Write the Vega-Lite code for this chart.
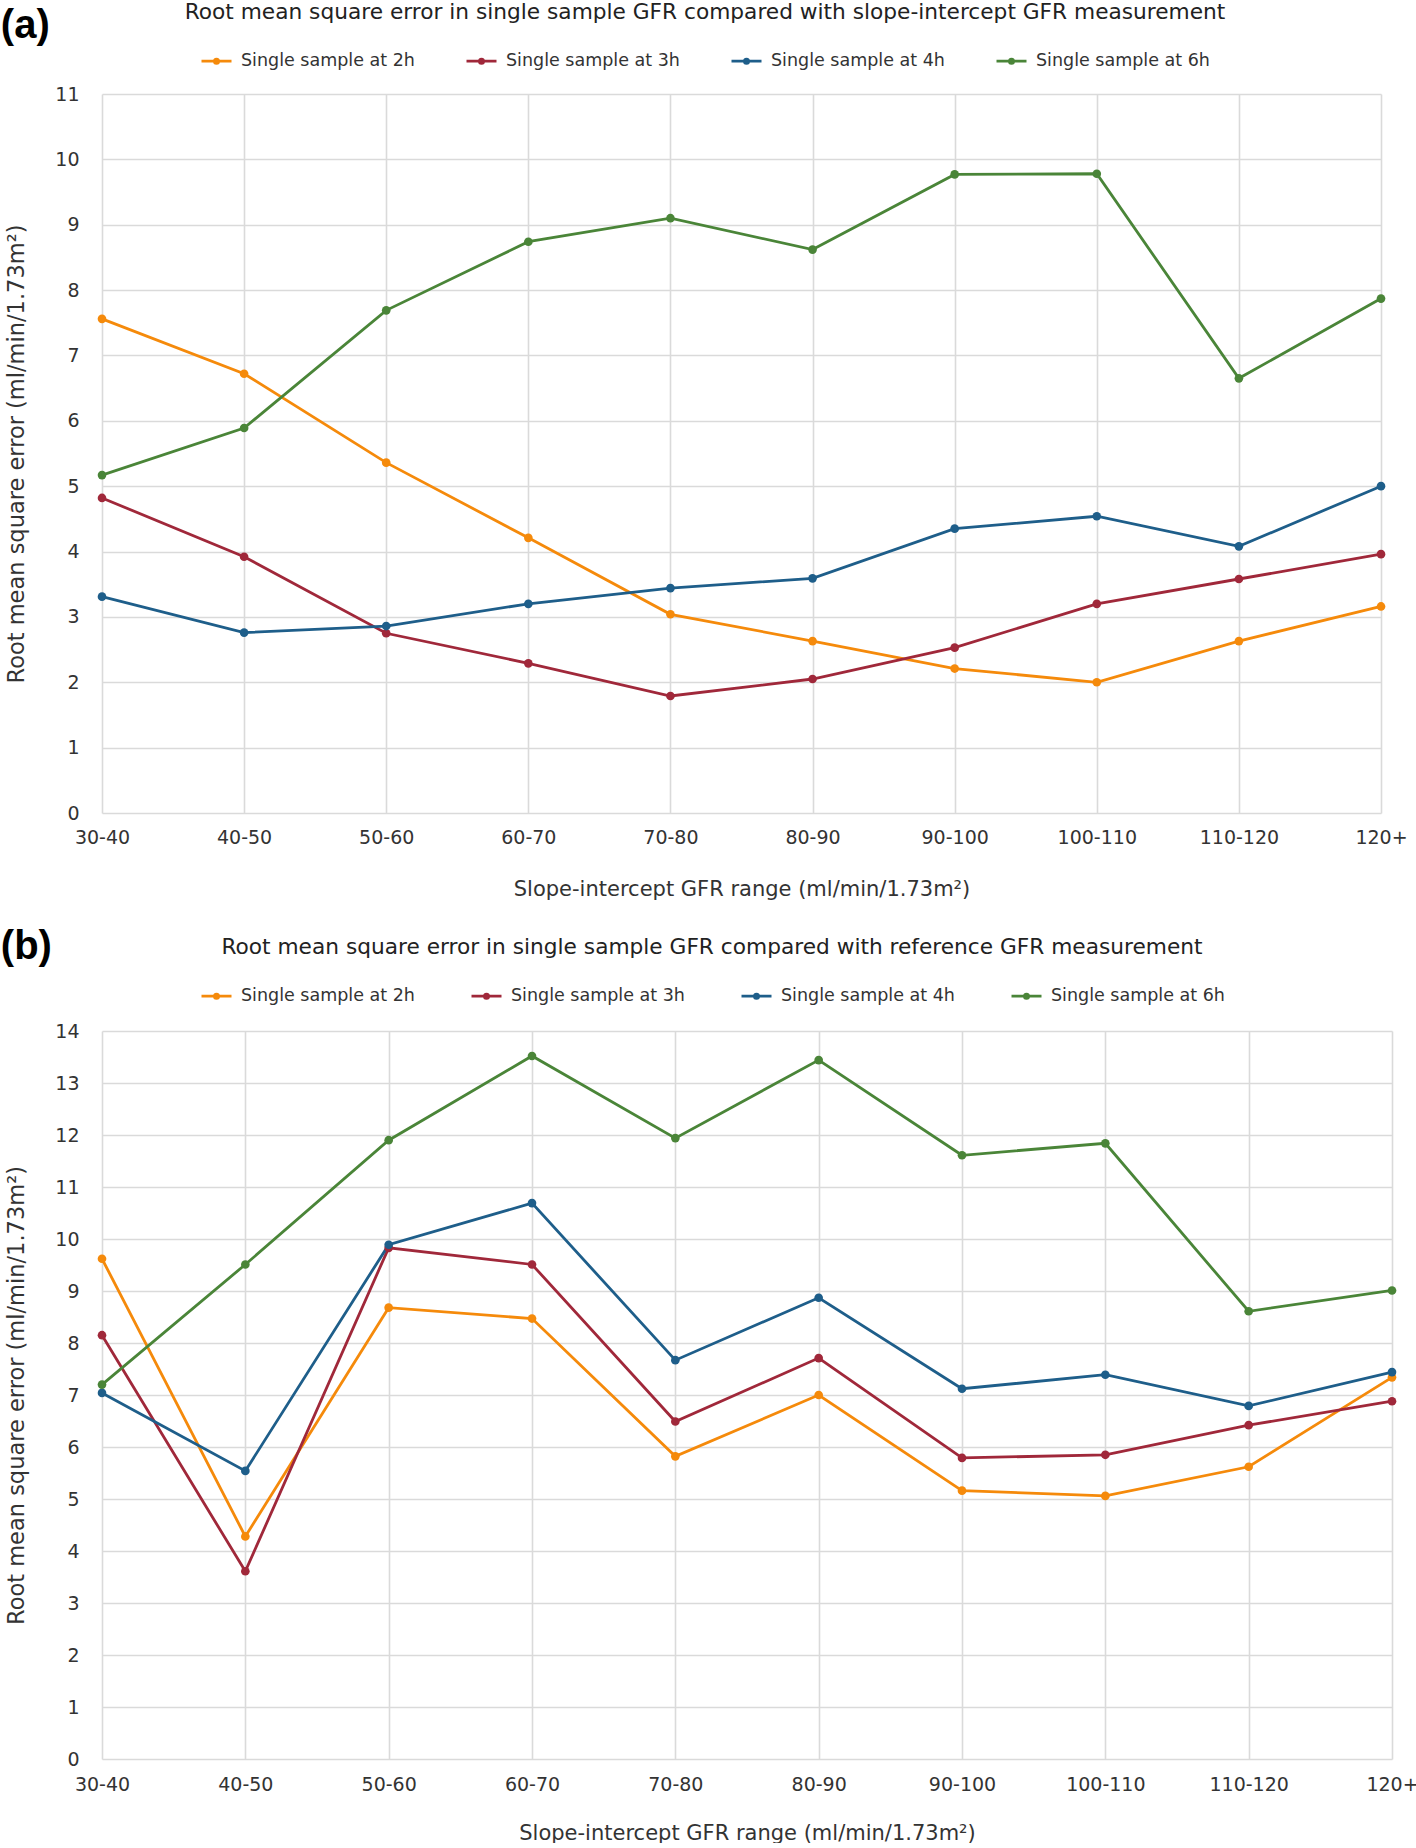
{
  "$schema": "https://vega.github.io/schema/vega-lite/v6.json",
  "background": "white",
  "padding": {"left": 0, "top": 2, "right": 0, "bottom": 0},
  "spacing": 28,
  "align": "none",
  "resolve": {"scale": {"color": "independent", "x": "independent", "y": "independent"}, "legend": {"color": "independent"}},
  "config": {
    "view": {"stroke": null},
    "font": "DejaVu Sans",
    "axis": {"labelFont": "DejaVu Sans", "labelFontSize": 19, "labelColor": "#333333", "titleFont": "DejaVu Sans", "titleFontWeight": "normal", "titleColor": "#333333", "titleFontSize": 20, "gridColor": "#dadada", "gridWidth": 1.6, "domain": false, "ticks": false},
    "legend": {"labelFont": "DejaVu Sans", "labelFontSize": 17.5, "labelColor": "#333333", "labelLimit": 400, "titleFont": "DejaVu Sans", "titleFontSize": 21.7, "titleFontWeight": "normal", "titleColor": "#222222", "titleLimit": 2000, "titleAnchor": "middle", "titleOrient": "top", "titlePadding": 21, "symbolType": "M-1,0L1,0M0.14,0A0.14,0.14,0,1,1,-0.14,0A0.14,0.14,0,1,1,0.14,0", "symbolSize": 900, "symbolStrokeWidth": 2.8, "labelOffset": 8}
  },
  "datasets": {
    "a": [
      {"r": "30-40", "s": "Single sample at 2h", "v": 7.56}, {"r": "40-50", "s": "Single sample at 2h", "v": 6.72}, {"r": "50-60", "s": "Single sample at 2h", "v": 5.36}, {"r": "60-70", "s": "Single sample at 2h", "v": 4.21}, {"r": "70-80", "s": "Single sample at 2h", "v": 3.04}, {"r": "80-90", "s": "Single sample at 2h", "v": 2.63}, {"r": "90-100", "s": "Single sample at 2h", "v": 2.21}, {"r": "100-110", "s": "Single sample at 2h", "v": 2.0}, {"r": "110-120", "s": "Single sample at 2h", "v": 2.63}, {"r": "120+", "s": "Single sample at 2h", "v": 3.16},
      {"r": "30-40", "s": "Single sample at 3h", "v": 4.82}, {"r": "40-50", "s": "Single sample at 3h", "v": 3.92}, {"r": "50-60", "s": "Single sample at 3h", "v": 2.75}, {"r": "60-70", "s": "Single sample at 3h", "v": 2.29}, {"r": "70-80", "s": "Single sample at 3h", "v": 1.79}, {"r": "80-90", "s": "Single sample at 3h", "v": 2.05}, {"r": "90-100", "s": "Single sample at 3h", "v": 2.53}, {"r": "100-110", "s": "Single sample at 3h", "v": 3.2}, {"r": "110-120", "s": "Single sample at 3h", "v": 3.58}, {"r": "120+", "s": "Single sample at 3h", "v": 3.96},
      {"r": "30-40", "s": "Single sample at 4h", "v": 3.31}, {"r": "40-50", "s": "Single sample at 4h", "v": 2.76}, {"r": "50-60", "s": "Single sample at 4h", "v": 2.86}, {"r": "60-70", "s": "Single sample at 4h", "v": 3.2}, {"r": "70-80", "s": "Single sample at 4h", "v": 3.44}, {"r": "80-90", "s": "Single sample at 4h", "v": 3.59}, {"r": "90-100", "s": "Single sample at 4h", "v": 4.35}, {"r": "100-110", "s": "Single sample at 4h", "v": 4.54}, {"r": "110-120", "s": "Single sample at 4h", "v": 4.08}, {"r": "120+", "s": "Single sample at 4h", "v": 5.0},
      {"r": "30-40", "s": "Single sample at 6h", "v": 5.17}, {"r": "40-50", "s": "Single sample at 6h", "v": 5.89}, {"r": "50-60", "s": "Single sample at 6h", "v": 7.69}, {"r": "60-70", "s": "Single sample at 6h", "v": 8.74}, {"r": "70-80", "s": "Single sample at 6h", "v": 9.1}, {"r": "80-90", "s": "Single sample at 6h", "v": 8.62}, {"r": "90-100", "s": "Single sample at 6h", "v": 9.77}, {"r": "100-110", "s": "Single sample at 6h", "v": 9.78}, {"r": "110-120", "s": "Single sample at 6h", "v": 6.65}, {"r": "120+", "s": "Single sample at 6h", "v": 7.87}
    ],
    "b": [
      {"r": "30-40", "s": "Single sample at 2h", "v": 9.62}, {"r": "40-50", "s": "Single sample at 2h", "v": 4.28}, {"r": "50-60", "s": "Single sample at 2h", "v": 8.68}, {"r": "60-70", "s": "Single sample at 2h", "v": 8.47}, {"r": "70-80", "s": "Single sample at 2h", "v": 5.82}, {"r": "80-90", "s": "Single sample at 2h", "v": 7.0}, {"r": "90-100", "s": "Single sample at 2h", "v": 5.16}, {"r": "100-110", "s": "Single sample at 2h", "v": 5.06}, {"r": "110-120", "s": "Single sample at 2h", "v": 5.62}, {"r": "120+", "s": "Single sample at 2h", "v": 7.34},
      {"r": "30-40", "s": "Single sample at 3h", "v": 8.15}, {"r": "40-50", "s": "Single sample at 3h", "v": 3.61}, {"r": "50-60", "s": "Single sample at 3h", "v": 9.83}, {"r": "60-70", "s": "Single sample at 3h", "v": 9.51}, {"r": "70-80", "s": "Single sample at 3h", "v": 6.49}, {"r": "80-90", "s": "Single sample at 3h", "v": 7.71}, {"r": "90-100", "s": "Single sample at 3h", "v": 5.79}, {"r": "100-110", "s": "Single sample at 3h", "v": 5.85}, {"r": "110-120", "s": "Single sample at 3h", "v": 6.42}, {"r": "120+", "s": "Single sample at 3h", "v": 6.88},
      {"r": "30-40", "s": "Single sample at 4h", "v": 7.04}, {"r": "40-50", "s": "Single sample at 4h", "v": 5.54}, {"r": "50-60", "s": "Single sample at 4h", "v": 9.89}, {"r": "60-70", "s": "Single sample at 4h", "v": 10.69}, {"r": "70-80", "s": "Single sample at 4h", "v": 7.67}, {"r": "80-90", "s": "Single sample at 4h", "v": 8.87}, {"r": "90-100", "s": "Single sample at 4h", "v": 7.12}, {"r": "100-110", "s": "Single sample at 4h", "v": 7.39}, {"r": "110-120", "s": "Single sample at 4h", "v": 6.79}, {"r": "120+", "s": "Single sample at 4h", "v": 7.44},
      {"r": "30-40", "s": "Single sample at 6h", "v": 7.2}, {"r": "40-50", "s": "Single sample at 6h", "v": 9.51}, {"r": "50-60", "s": "Single sample at 6h", "v": 11.9}, {"r": "60-70", "s": "Single sample at 6h", "v": 13.52}, {"r": "70-80", "s": "Single sample at 6h", "v": 11.94}, {"r": "80-90", "s": "Single sample at 6h", "v": 13.44}, {"r": "90-100", "s": "Single sample at 6h", "v": 11.61}, {"r": "100-110", "s": "Single sample at 6h", "v": 11.84}, {"r": "110-120", "s": "Single sample at 6h", "v": 8.61}, {"r": "120+", "s": "Single sample at 6h", "v": 9.01}
    ]
  },
  "vconcat": [
    {
      "width": 1279,
      "height": 719,
      "title": {"text": "(a)", "anchor": "start", "frame": "bounds", "font": "Liberation Sans", "fontSize": 40, "fontWeight": "bold", "color": "#000000", "offset": 0, "dy": 44, "dx": -5},
      "data": {"name": "a"},
      "mark": {"type": "line", "strokeWidth": 2.8, "point": {"filled": true, "size": 75}},
      "encoding": {
        "x": {"field": "r", "type": "ordinal", "sort": ["30-40", "40-50", "50-60", "60-70", "70-80", "80-90", "90-100", "100-110", "110-120", "120+"], "scale": {"type": "point", "padding": 0}, "axis": {"title": "Slope-intercept GFR range (ml/min/1.73m²)", "labelAngle": 0, "grid": true, "labelPadding": 15, "titlePadding": 31, "titleFontSize": 21}},
        "y": {"field": "v", "type": "quantitative", "scale": {"domain": [0, 11], "nice": false}, "axis": {"title": "Root mean square error (ml/min/1.73m²)", "values": [0, 1, 2, 3, 4, 5, 6, 7, 8, 9, 10, 11], "labelPadding": 23, "titlePadding": 26, "titleFontSize": 22.5}},
        "color": {"field": "s", "type": "nominal", "scale": {"domain": ["Single sample at 2h", "Single sample at 3h", "Single sample at 4h", "Single sample at 6h"], "range": ["#F58A0B", "#A0283A", "#1E5E8A", "#4A8538"]}, "legend": {"orient": "none", "direction": "horizontal", "legendX": 83, "legendY": -92, "columnPadding": 45, "title": "Root mean square error in single sample GFR compared with slope-intercept GFR measurement"}}
      }
    },
    {
      "width": 1290,
      "height": 728,
      "title": {"text": "(b)", "anchor": "start", "frame": "bounds", "font": "Liberation Sans", "fontSize": 40, "fontWeight": "bold", "color": "#000000", "offset": 0, "dy": 30, "dx": -5},
      "data": {"name": "b"},
      "mark": {"type": "line", "strokeWidth": 2.8, "point": {"filled": true, "size": 75}},
      "encoding": {
        "x": {"field": "r", "type": "ordinal", "sort": ["30-40", "40-50", "50-60", "60-70", "70-80", "80-90", "90-100", "100-110", "110-120", "120+"], "scale": {"type": "point", "padding": 0}, "axis": {"title": "Slope-intercept GFR range (ml/min/1.73m²)", "labelAngle": 0, "grid": true, "labelPadding": 16, "titlePadding": 28, "titleFontSize": 21}},
        "y": {"field": "v", "type": "quantitative", "scale": {"domain": [0, 14], "nice": false}, "axis": {"title": "Root mean square error (ml/min/1.73m²)", "values": [0, 1, 2, 3, 4, 5, 6, 7, 8, 9, 10, 11, 12, 13, 14], "labelPadding": 23, "titlePadding": 26, "titleFontSize": 22.5}},
        "color": {"field": "s", "type": "nominal", "scale": {"domain": ["Single sample at 2h", "Single sample at 3h", "Single sample at 4h", "Single sample at 6h"], "range": ["#F58A0B", "#A0283A", "#1E5E8A", "#4A8538"]}, "legend": {"orient": "none", "direction": "horizontal", "legendX": 98, "legendY": -94, "columnPadding": 50, "title": "Root mean square error in single sample GFR compared with reference GFR measurement"}}
      }
    }
  ]
}
